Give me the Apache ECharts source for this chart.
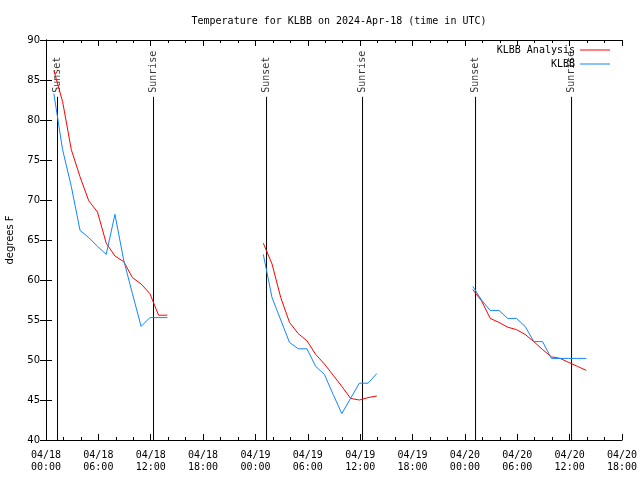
<!DOCTYPE html>
<html><head><meta charset="utf-8">
<script src="https://cdn.jsdelivr.net/npm/echarts@6/dist/echarts.min.js"></script>
<style>html,body{margin:0;padding:0;background:#fff}#c{width:640px;height:480px}</style>
</head><body><div id="c"></div>
<script>
// Hours since 2024-04-18 00:00 UTC
const xTickLabels = ['04/18\n00:00','04/18\n06:00','04/18\n12:00','04/18\n18:00','04/19\n00:00','04/19\n06:00','04/19\n12:00','04/19\n18:00','04/20\n00:00','04/20\n06:00','04/20\n12:00','04/20\n18:00'];
const yTicks = [40,45,50,55,60,65,70,75,80,85,90];

const hours1 = [0.9,1.9,2.9,3.9,4.9,5.9,6.9,7.9,8.9,9.9,10.9,11.9,12.9,13.9];
const analysis1 = [86.2,82.3,76.3,72.9,69.9,68.5,64.6,63.0,62.3,60.3,59.5,58.3,55.6,55.6];
const obs1 = [83.3,76.3,71.7,66.2,65.3,64.2,63.2,68.2,62.5,58.3,54.2,55.3,55.3,55.3];

const hours2 = [24.9,25.9,26.9,27.9,28.9,29.9,30.9,31.9,32.9,33.9,34.9,35.9,36.9,37.9];
const analysis2 = [64.6,62.0,57.8,54.7,53.3,52.4,50.7,49.5,48.1,46.7,45.2,45.0,45.3,45.5];
const obs2 = [63.2,57.8,55.0,52.2,51.4,51.4,49.2,48.2,45.7,43.3,45.2,47.1,47.1,48.3];

const hours3 = [48.9,49.9,50.9,51.9,52.9,53.9,54.9,55.9,56.9,57.9,58.9,59.9,60.9,61.9];
const analysis3 = [58.8,57.4,55.2,54.7,54.1,53.8,53.2,52.3,51.3,50.4,50.2,49.7,49.2,48.7];
const obs3 = [59.2,57.5,56.2,56.2,55.2,55.2,54.2,52.3,52.3,50.2,50.2,50.2,50.2,50.2];

const sunEventHours = [1.32,12.32,25.27,36.27,49.22,60.22];
const sunEventNames = ['Sunset','Sunrise','Sunset','Sunrise','Sunset','Sunrise'];
const sunLineTop = 82.9;
const sunLabelAt = 83.4;

function pairs(h, v){ return h.map((t,i)=>[t,v[i]]); }
function joinSegs(segs){
  const out = [];
  segs.forEach((s,k)=>{ if(k>0) out.push([s[0][0]-0.5, null]); out.push(...s); });
  return out;
}

const mono = 'DejaVu Sans Mono';
const RED = '#ff0000', BLUE = '#1086ff';

const series = [];
sunEventHours.forEach(t=>{
  series.push({type:'line', data:[[t,40],[t,sunLineTop]], symbol:'none', silent:true,
    lineStyle:{color:'#000', width:1}, z:1});
});
series.push({type:'scatter', symbolSize:0, silent:true, z:3,
  data: sunEventHours.map((t,i)=>[t, sunLabelAt, sunEventNames[i]]),
  label:{show:true, position:'inside', rotate:90, align:'left', verticalAlign:'middle',
    formatter:p=>p.value[2], fontFamily:mono, fontSize:10, color:'#000'}});
series.push({name:'KLBB Analysis', type:'line', symbol:'none', connectNulls:false, z:4,
  data: joinSegs([pairs(hours1,analysis1),pairs(hours2,analysis2),pairs(hours3,analysis3)]),
  lineStyle:{color:RED, width:1}, itemStyle:{color:RED}});
series.push({name:'KLBB', type:'line', symbol:'none', connectNulls:false, z:5,
  data: joinSegs([pairs(hours1,obs1),pairs(hours2,obs2),pairs(hours3,obs3)]),
  lineStyle:{color:BLUE, width:1}, itemStyle:{color:BLUE}});

const tickCommon = {inside:true, length:6, lineStyle:{color:'#000'}};
const minorCommon = {show:true, splitNumber:3, length:3, lineStyle:{color:'#000'}};

const option = {
  animation:false,
  backgroundColor:'#fff',
  title:{text:'Temperature for KLBB on 2024-Apr-18 (time in UTC)', left:334, top:11, textAlign:'center',
    textStyle:{fontFamily:mono, fontSize:10, fontWeight:'normal', color:'#000'}},
  legend:[
    {data:['KLBB Analysis'], right:30, top:45, padding:0, align:'right', orient:'vertical', icon:'rect',
      itemWidth:30, itemHeight:1, textStyle:{fontFamily:mono, fontSize:10, color:'#000'}},
    {data:['KLBB'], right:30, top:59, padding:0, align:'right', orient:'vertical', icon:'rect',
      itemWidth:30, itemHeight:1, textStyle:{fontFamily:mono, fontSize:10, color:'#000'}}
  ],
  grid:{left:46, right:18, top:40, bottom:40, outerBoundsMode:'none'},
  xAxis:[
    {type:'value', min:0, max:66, interval:6, position:'bottom',
      axisLine:{show:true, lineStyle:{color:'#000'}}, axisTick:tickCommon, minorTick:minorCommon,
      splitLine:{show:false},
      axisLabel:{formatter:v=>xTickLabels[Math.round(v/6)], fontFamily:mono, fontSize:10, color:'#000', margin:9, lineHeight:12}},
    {type:'value', min:0, max:66, interval:6, position:'top',
      axisLine:{show:true, lineStyle:{color:'#000'}}, axisTick:tickCommon, minorTick:minorCommon,
      splitLine:{show:false}, axisLabel:{show:false}}
  ],
  yAxis:[
    {type:'value', min:40, max:90, interval:5, position:'left',
      name:'degrees F', nameLocation:'middle', nameGap:31, nameRotate:90,
      nameTextStyle:{fontFamily:'DejaVu Sans', fontSize:10, color:'#000'},
      axisLine:{show:true, lineStyle:{color:'#000'}}, axisTick:tickCommon, splitLine:{show:false},
      axisLabel:{formatter:v=>String(yTicks[yTicks.indexOf(v)]), fontFamily:'DejaVu Sans', fontSize:10, color:'#000', margin:6}},
    {type:'value', min:40, max:90, interval:5, position:'right',
      axisLine:{show:true, lineStyle:{color:'#000'}}, axisTick:tickCommon, splitLine:{show:false},
      axisLabel:{show:false}}
  ],
  series: series
};
const chart = echarts.init(document.getElementById('c'), null, {renderer:'canvas'});
chart.setOption(option);
</script>
</body></html>
